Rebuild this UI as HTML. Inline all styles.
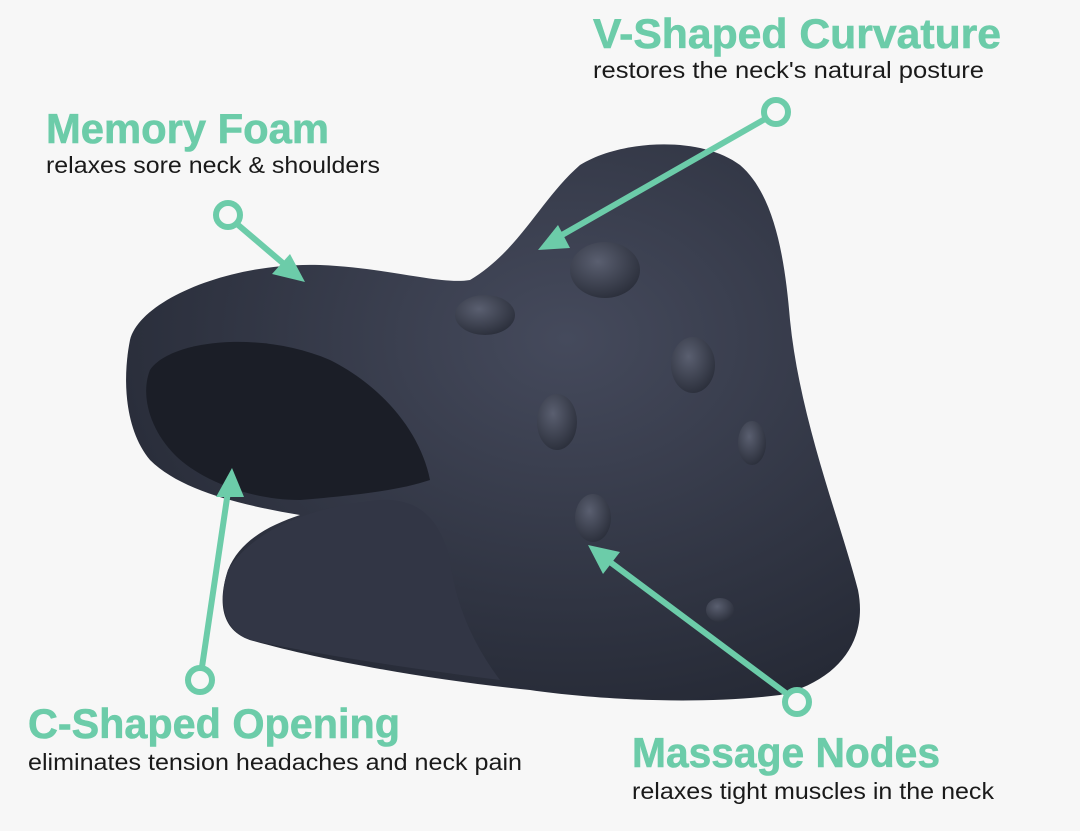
<!DOCTYPE html>
<html><head><meta charset="utf-8"><style>
html,body{margin:0;padding:0;background:#f7f7f7;}
svg{display:block;}
.h{font-family:"Liberation Sans",sans-serif;font-weight:bold;fill:#6ccca9;font-size:42px;stroke:#6ccca9;stroke-width:0.6px;paint-order:stroke;}
.s{font-family:"Liberation Sans",sans-serif;fill:#1a1a1a;font-size:23px;}
</style></head><body>
<svg width="1080" height="831" viewBox="0 0 1080 831" xmlns="http://www.w3.org/2000/svg">
<defs>
<radialGradient id="g" cx="0.6" cy="0.35" r="0.7">
<stop offset="0" stop-color="#454a5c"/><stop offset="1" stop-color="#262a36"/>
</radialGradient>
<radialGradient id="n" cx="0.4" cy="0.35" r="0.7">
<stop offset="0" stop-color="#5a5f70"/><stop offset="1" stop-color="#2a2e3a"/>
</radialGradient>
</defs>
<rect width="1080" height="831" fill="#f7f7f7"/>
<path d="M130,340 C140,300 230,262 320,265 C390,268 440,285 470,280 C520,250 540,200 580,165 C620,140 700,135 740,165 C775,195 785,260 790,320 C800,420 840,520 858,590 C868,640 840,680 780,695 C700,705 600,700 530,690 C430,680 320,660 250,640 C220,630 218,600 228,570 C240,540 270,525 300,515 C240,505 180,490 150,460 C125,430 122,380 130,340 Z" fill="url(#g)"/>
<path d="M150,370 C170,340 260,330 330,360 C380,385 420,430 430,480 C400,490 360,495 300,500 C250,500 200,480 175,455 C150,430 140,395 150,370 Z" fill="#1b1e27"/>
<path d="M228,570 C260,520 330,505 380,500 C420,498 440,520 450,560 C455,600 470,640 500,680 C420,670 320,655 250,640 C222,630 218,600 228,570 Z" fill="#323645"/>
<ellipse cx="605" cy="270" rx="35" ry="28" fill="url(#n)"/>
<ellipse cx="485" cy="315" rx="30" ry="20" fill="url(#n)"/>
<ellipse cx="693" cy="365" rx="22" ry="28" fill="url(#n)"/>
<ellipse cx="557" cy="422" rx="20" ry="28" fill="url(#n)"/>
<ellipse cx="752" cy="443" rx="14" ry="22" fill="url(#n)"/>
<ellipse cx="593" cy="518" rx="18" ry="24" fill="url(#n)"/>
<ellipse cx="720" cy="610" rx="14" ry="12" fill="url(#n)"/>
<g stroke="#6ccca9" stroke-width="6" fill="none" stroke-linecap="round">
<circle cx="228" cy="215" r="12" fill="#f7f7f7"/>
<line x1="237" y1="224" x2="298" y2="276"/>
<circle cx="776" cy="112" r="12" fill="#f7f7f7"/>
<line x1="765" y1="119" x2="548" y2="243"/>
<circle cx="200" cy="680" r="12" fill="#f7f7f7"/>
<line x1="202" y1="667" x2="230" y2="478"/>
<circle cx="797" cy="702" r="12" fill="#f7f7f7"/>
<line x1="787" y1="694" x2="598" y2="553"/>
</g>
<g fill="#6ccca9">
<polygon points="305,282 272,274 290,254"/>
<polygon points="538,250 558,225 570,248"/>
<polygon points="232,468 216,497 244,497"/>
<polygon points="588,545 620,552 603,574"/>
</g>
<text class="h" x="46" y="143" textLength="283" lengthAdjust="spacingAndGlyphs">Memory Foam</text>
<text class="s" x="46" y="173" textLength="334" lengthAdjust="spacingAndGlyphs">relaxes sore neck &amp; shoulders</text>
<text class="h" x="593" y="48" textLength="408" lengthAdjust="spacingAndGlyphs">V-Shaped Curvature</text>
<text class="s" x="593" y="78" textLength="391" lengthAdjust="spacingAndGlyphs">restores the neck's natural posture</text>
<text class="h" x="28" y="738" textLength="372" lengthAdjust="spacingAndGlyphs">C-Shaped Opening</text>
<text class="s" x="28" y="770" textLength="494" lengthAdjust="spacingAndGlyphs">eliminates tension headaches and neck pain</text>
<text class="h" x="632" y="767" textLength="308" lengthAdjust="spacingAndGlyphs">Massage Nodes</text>
<text class="s" x="632" y="799" textLength="362" lengthAdjust="spacingAndGlyphs">relaxes tight muscles in the neck</text>
</svg>
</body></html>
